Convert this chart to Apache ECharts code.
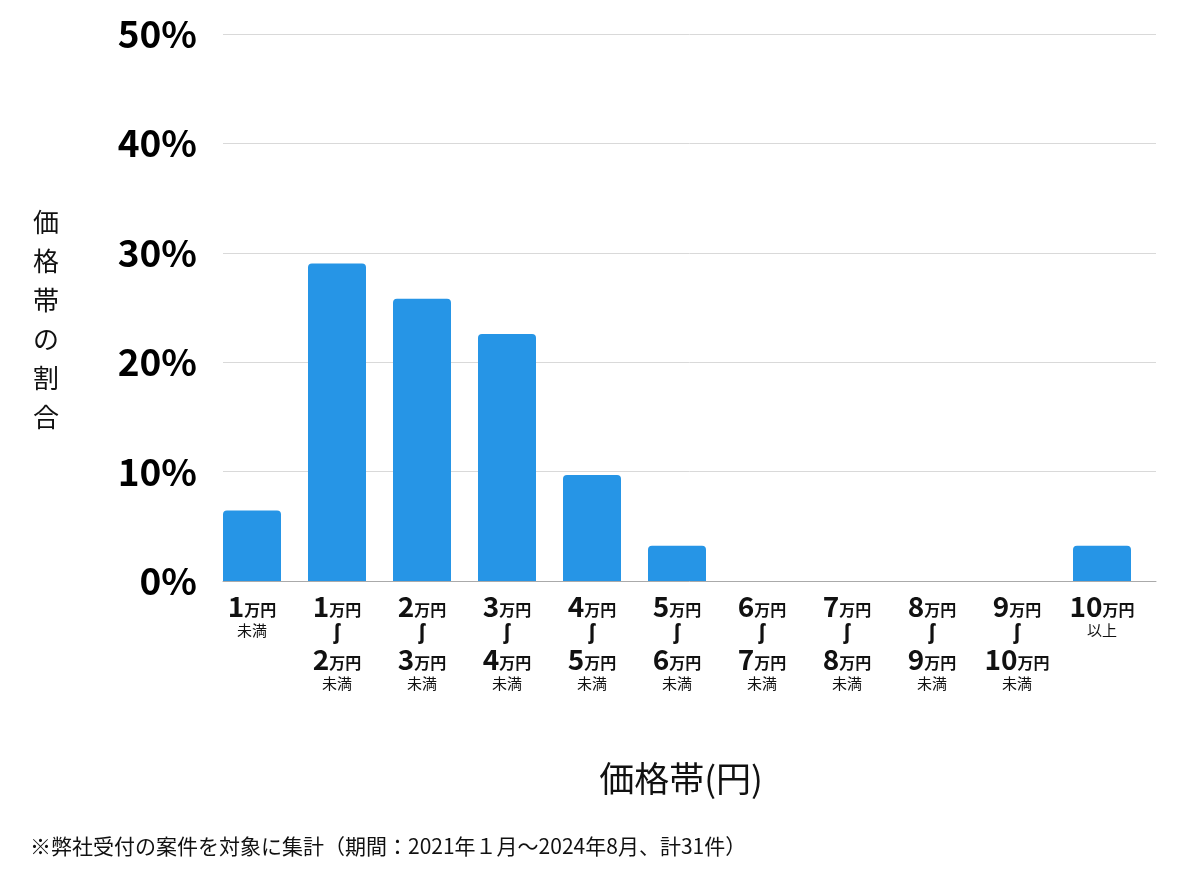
<!DOCTYPE html>
<html>
<head>
<meta charset="utf-8">
<script src="https://cdn.jsdelivr.net/npm/echarts@6/dist/echarts.min.js"></script>
<style>
  html, body { margin: 0; padding: 0; background: #fff; }
  #chart { width: 1200px; height: 874px; }
</style>
</head>
<body>
<div id="chart"></div>
<script>
// 価格帯ごとのラベル（上段・下段）と割合(%)
const fromLabels = ['1', '1', '2', '3', '4', '5', '6', '7', '8', '9', '10'];
const toLabels = ['', '2', '3', '4', '5', '6', '7', '8', '9', '10', ''];
const suffixLabels = ['未満', '未満', '未満', '未満', '未満', '未満', '未満', '未満', '未満', '未満', '以上'];
const shares = [6.45, 29.03, 25.81, 22.58, 9.68, 3.23, 0, 0, 0, 0, 3.23];
const yTicks = [0, 10, 20, 30, 40, 50];

const categories = fromLabels.map((f, i) => i);
const font = '"Noto Sans CJK JP", "Noto Sans", sans-serif';

function categoryLabel(i) {
    if (!toLabels[i]) {
        return `{num|${fromLabels[i]}}{yen|万円}\n{note|${suffixLabels[i]}}`;
    }
    return `{num|${fromLabels[i]}}{yen|万円}\n{wave|ʃ}\n{num|${toLabels[i]}}{yen|万円}\n{note|${suffixLabels[i]}}`;
}

const myChart = echarts.init(document.getElementById('chart'));

const option = {
    animation: false,
    textStyle: { fontFamily: font },
    grid: [
        // 目盛線と軸線
        { left: 223, right: 44, top: 34, bottom: 293 },
        // 棒（棒は各区間の左端に寄せて描かれている）
        { left: 209.5, right: 55.5, top: 34, bottom: 293 }
    ],
    xAxis: [{
        type: 'category',
        gridIndex: 0,
        data: categories,
        axisLine: { lineStyle: { color: '#aaaaaa', width: 1 } },
        axisTick: { show: false },
        axisLabel: { show: false }
    }, {
        type: 'category',
        gridIndex: 1,
        data: categories,
        axisLine: { show: false },
        axisTick: { show: false },
        axisLabel: {
            interval: 0,
            margin: 12,
            formatter: (v, i) => categoryLabel(i),
            rich: {
                num: { fontSize: 28, fontWeight: 'bold', color: '#111', lineHeight: 27, fontFamily: font },
                yen: { fontSize: 16, fontWeight: 'bold', color: '#111', lineHeight: 27, fontFamily: font, verticalAlign: 'bottom', padding: [0, 0, 2, 0] },
                wave: { fontSize: 21, fontWeight: 'bold', color: '#111', lineHeight: 26, fontFamily: '"Noto Sans", "DejaVu Sans", sans-serif' },
                note: { fontSize: 15, color: '#111', lineHeight: 20, fontFamily: font }
            }
        },
        name: '価格帯(円)',
        nameLocation: 'middle',
        nameGap: 180,
        nameTextStyle: { fontSize: 35, color: '#111', fontFamily: font, padding: [0, 0, 0, 8] }
    }],
    yAxis: [{
        type: 'value',
        gridIndex: 0,
        min: yTicks[0],
        max: yTicks[yTicks.length - 1],
        interval: 10,
        axisLine: { show: false },
        axisTick: { show: false },
        splitLine: { lineStyle: { color: '#d9d9d9', width: 1 } },
        axisLabel: {
            margin: 26,
            formatter: '{value}%',
            fontSize: 37,
            fontWeight: 'bold',
            color: '#000',
            fontFamily: font
        }
    }, {
        type: 'value',
        gridIndex: 1,
        min: yTicks[0],
        max: yTicks[yTicks.length - 1],
        interval: 10,
        show: false
    }],
    series: [{
        type: 'bar',
        xAxisIndex: 1,
        yAxisIndex: 1,
        data: shares,
        barWidth: 58,
        itemStyle: { color: '#2695e6', borderRadius: [4, 4, 0, 0] }
    }],
    graphic: [{
        type: 'text',
        left: 33,
        top: 203,
        style: {
            text: '価\n格\n帯\nの\n割\n合',
            fontSize: 26,
            lineHeight: 39,
            fill: '#111',
            fontFamily: font,
            align: 'center'
        }
    }, {
        type: 'text',
        left: 30,
        top: 836,
        style: {
            text: '※弊社受付の案件を対象に集計（期間：2021年１月〜2024年8月、計31件）',
            fontSize: 21,
            fill: '#111',
            fontFamily: font
        }
    }]
};

myChart.setOption(option);

window.addEventListener('resize', () => {
    if (myChart) myChart.resize();
});
</script>
</body>
</html>
